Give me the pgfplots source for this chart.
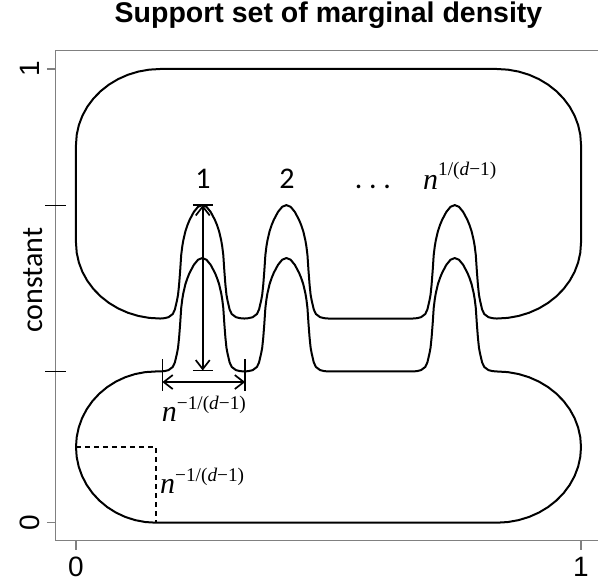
\documentclass[border=0pt]{standalone}
\usepackage{pgfplots}
\pgfplotsset{compat=1.18}
\usepackage{fontspec}
\usetikzlibrary{arrows.meta}
\newfontfamily\arialf{Liberation Sans}
\newfontfamily\calf{Carlito}
\newfontfamily\tnrf{Liberation Serif}
\newcommand{\nexp}[2]{{\tnrf\fontsize{30bp}{30bp}\selectfont\itshape n}\raisebox{#1}{\tnrf\fontsize{19.3bp}{20bp}\selectfont #2}}
\begin{document}
\begin{tikzpicture}
\useasboundingbox (-55.8bp,-40.15bp) rectangle (542.2bp,540.85bp);
\begin{axis}[
  at={(0,0)}, anchor=south west,
  x=505bp, y=453.7bp,
  xmin=-0.04, xmax=1.04, ymin=-0.04, ymax=1.04,
  clip=false,
  axis line style={draw=black!50, line width=1.2bp},
  tick style={draw=black!50, line width=1.2bp},
  tick align=outside,
  major tick length=9bp,
  tick pos=left,
  xtick={0,1}, xticklabels={0,1},
  ytick={0,1}, yticklabels={0,1},
  xticklabel shift=7bp,
  yticklabel shift=7bp,
  xticklabel style={font=\arialf\fontsize{28bp}{28bp}\selectfont, inner sep=0pt, anchor=north},
  yticklabel style={font=\arialf\fontsize{28bp}{28bp}\selectfont, rotate=90, anchor=south, inner sep=0pt},
  extra y ticks={0.33333,0.7},
  extra y tick labels={},
  extra y tick style={tick align=center, major tick length=21bp, tick style={draw=black}},
]
% upper blob
\addplot[black, line width=2bp, line join=round, no marks] coordinates {
(0,0.61667) (0.00143,0.59491) (0.00568,0.57353) (0.01269,0.55289) (0.02233,0.53334) (0.03444,0.51521) (0.04882,0.49882) (0.06521,0.48444) (0.08333,0.47233) (0.10289,0.46269) (0.12353,0.45568) (0.14491,0.45143) (0.16667,0.45)
(0.175,0.45075) (0.18333,0.453) (0.19167,0.46) (0.19583,0.47) (0.2,0.49) (0.20208,0.5025) (0.20417,0.525) (0.20625,0.555) (0.20833,0.59) (0.21042,0.6088) (0.2125,0.6225) (0.21667,0.6425) (0.22083,0.6563) (0.225,0.6675) (0.23333,0.685) (0.24167,0.6963) (0.25,0.7) (0.25833,0.6963) (0.26667,0.685) (0.275,0.6675) (0.27917,0.6563) (0.28333,0.6425) (0.2875,0.6225) (0.28958,0.6088) (0.29167,0.59) (0.29375,0.555) (0.29583,0.525) (0.29792,0.5025) (0.3,0.49) (0.30417,0.47) (0.30833,0.46) (0.31667,0.453) (0.325,0.45075) (0.33333,0.45)
(0.34167,0.45075) (0.35,0.453) (0.35833,0.46) (0.3625,0.47) (0.36667,0.49) (0.36875,0.5025) (0.37083,0.525) (0.37292,0.555) (0.375,0.59) (0.37708,0.6088) (0.37917,0.6225) (0.38333,0.6425) (0.3875,0.6563) (0.39167,0.6675) (0.4,0.685) (0.40833,0.6963) (0.41667,0.7) (0.425,0.6963) (0.43333,0.685) (0.44167,0.6675) (0.44583,0.6563) (0.45,0.6425) (0.45417,0.6225) (0.45625,0.6088) (0.45833,0.59) (0.46042,0.555) (0.4625,0.525) (0.46458,0.5025) (0.46667,0.49) (0.47083,0.47) (0.475,0.46) (0.48333,0.453) (0.49167,0.45075) (0.5,0.45)
(0.66667,0.45) (0.675,0.45075) (0.68333,0.453) (0.69167,0.46) (0.69583,0.47) (0.7,0.49) (0.70208,0.5025) (0.70417,0.525) (0.70625,0.555) (0.70833,0.59) (0.71042,0.6088) (0.7125,0.6225) (0.71667,0.6425) (0.72083,0.6563) (0.725,0.6675) (0.73333,0.685) (0.74167,0.6963) (0.75,0.7) (0.75833,0.6963) (0.76667,0.685) (0.775,0.6675) (0.77917,0.6563) (0.78333,0.6425) (0.7875,0.6225) (0.78958,0.6088) (0.79167,0.59) (0.79375,0.555) (0.79583,0.525) (0.79792,0.5025) (0.8,0.49) (0.80417,0.47) (0.80833,0.46) (0.81667,0.453) (0.825,0.45075) (0.83333,0.45)
(0.85509,0.45143) (0.87647,0.45568) (0.89711,0.46269) (0.91667,0.47233) (0.93479,0.48444) (0.95118,0.49882) (0.96556,0.51521) (0.97767,0.53334) (0.98731,0.55289) (0.99432,0.57353) (0.99857,0.59491) (1,0.61667)
(1,0.83333) (0.99857,0.85509) (0.99432,0.87647) (0.98731,0.89711) (0.97767,0.91667) (0.96556,0.93479) (0.95118,0.95118) (0.93479,0.96556) (0.91667,0.97767) (0.89711,0.98731) (0.87647,0.99432) (0.85509,0.99857) (0.83333,1)
(0.16667,1) (0.14491,0.99857) (0.12353,0.99432) (0.10289,0.98731) (0.08333,0.97767) (0.06521,0.96556) (0.04882,0.95118) (0.03444,0.93479) (0.02233,0.91667) (0.01269,0.89711) (0.00568,0.87647) (0.00143,0.85509) (0,0.83333)
(0,0.61667)
};
% lower blob
\addplot[black, line width=2bp, line join=round, no marks] coordinates {
(0.158,0.33333) (0.16667,0.33333) (0.175,0.33408) (0.18333,0.33633) (0.19167,0.34333) (0.19583,0.35333) (0.2,0.37333) (0.20208,0.38583) (0.20417,0.40833) (0.20625,0.43833) (0.20833,0.47333) (0.21042,0.49213) (0.2125,0.50583) (0.21667,0.52583) (0.22083,0.53963) (0.225,0.55083) (0.23333,0.56833) (0.24167,0.57963) (0.25,0.58333) (0.25833,0.57963) (0.26667,0.56833) (0.275,0.55083) (0.27917,0.53963) (0.28333,0.52583) (0.2875,0.50583) (0.28958,0.49213) (0.29167,0.47333) (0.29375,0.43833) (0.29583,0.40833) (0.29792,0.38583) (0.3,0.37333) (0.30417,0.35333) (0.30833,0.34333) (0.31667,0.33633) (0.325,0.33408) (0.33333,0.33333)
(0.34167,0.33408) (0.35,0.33633) (0.35833,0.34333) (0.3625,0.35333) (0.36667,0.37333) (0.36875,0.38583) (0.37083,0.40833) (0.37292,0.43833) (0.375,0.47333) (0.37708,0.49213) (0.37917,0.50583) (0.38333,0.52583) (0.3875,0.53963) (0.39167,0.55083) (0.4,0.56833) (0.40833,0.57963) (0.41667,0.58333) (0.425,0.57963) (0.43333,0.56833) (0.44167,0.55083) (0.44583,0.53963) (0.45,0.52583) (0.45417,0.50583) (0.45625,0.49213) (0.45833,0.47333) (0.46042,0.43833) (0.4625,0.40833) (0.46458,0.38583) (0.46667,0.37333) (0.47083,0.35333) (0.475,0.34333) (0.48333,0.33633) (0.49167,0.33408) (0.5,0.33333)
(0.66667,0.33333) (0.675,0.33408) (0.68333,0.33633) (0.69167,0.34333) (0.69583,0.35333) (0.7,0.37333) (0.70208,0.38583) (0.70417,0.40833) (0.70625,0.43833) (0.70833,0.47333) (0.71042,0.49213) (0.7125,0.50583) (0.71667,0.52583) (0.72083,0.53963) (0.725,0.55083) (0.73333,0.56833) (0.74167,0.57963) (0.75,0.58333) (0.75833,0.57963) (0.76667,0.56833) (0.775,0.55083) (0.77917,0.53963) (0.78333,0.52583) (0.7875,0.50583) (0.78958,0.49213) (0.79167,0.47333) (0.79375,0.43833) (0.79583,0.40833) (0.79792,0.38583) (0.8,0.37333) (0.80417,0.35333) (0.80833,0.34333) (0.81667,0.33633) (0.825,0.33408) (0.83333,0.33333)
(0.85509,0.33191) (0.87647,0.32766) (0.89711,0.32065) (0.91667,0.311) (0.93479,0.2989) (0.95118,0.28452) (0.96556,0.26813) (0.97767,0.25) (0.98731,0.23045) (0.99432,0.20981) (0.99857,0.18843) (1,0.16667)
(0.99857,0.14491) (0.99432,0.12353) (0.98731,0.10289) (0.97767,0.08333) (0.96556,0.06521) (0.95118,0.04882) (0.93479,0.03444) (0.91667,0.02233) (0.89711,0.01269) (0.87647,0.00568) (0.85509,0.00143) (0.83333,0)
(0.158,0) (0.13738,0.00143) (0.11711,0.00568) (0.09754,0.01269) (0.079,0.02233) (0.06182,0.03444) (0.04628,0.04882) (0.03265,0.06521) (0.02117,0.08333) (0.01203,0.10289) (0.00538,0.12353) (0.00135,0.14491) (0,0.16667)
(0.00135,0.18843) (0.00538,0.20981) (0.01203,0.23045) (0.02117,0.25) (0.03265,0.26813) (0.04628,0.28452) (0.06182,0.2989) (0.079,0.311) (0.09754,0.32065) (0.11711,0.32766) (0.13738,0.33191) (0.158,0.33333)
};
% dashed
\addplot[black, no marks, line width=1.6bp, dash pattern=on 5bp off 4bp] coordinates {(0,0.16667) (0.158,0.16667) (0.158,0)};
% vertical arrow with bars
\addplot[black, no marks, line width=1.7bp, {Straight Barb[length=9bp,width=14bp]}-{Straight Barb[length=9bp,width=14bp]}] coordinates {(0.251,0.3355) (0.251,0.7)};
\addplot[black, no marks, line width=1.7bp] coordinates {(0.2312,0.7) (0.2708,0.7)};
\addplot[black, no marks, line width=1.7bp] coordinates {(0.2312,0.3355) (0.2708,0.3355)};
% horizontal arrow with bars
\addplot[black, no marks, line width=1.7bp, {Straight Barb[length=9bp,width=14bp]}-{Straight Barb[length=9bp,width=14bp]}] coordinates {(0.171,0.310) (0.335,0.310)};
\addplot[black, no marks, line width=1.7bp] coordinates {(0.171,0.291) (0.171,0.360)};
\addplot[black, no marks, line width=1.7bp] coordinates {(0.335,0.291) (0.335,0.360)};
% title
\node[font=\arialf\bfseries\fontsize{28.5bp}{28.5bp}\selectfont, anchor=base, inner sep=0pt] at (axis cs:0.5,1.1014) {Support set of marginal density};
% labels
\node[font=\calf\fontsize{30bp}{30bp}\selectfont, anchor=base, inner sep=0pt] at (axis cs:0.2515,0.7377) {1};
\node[font=\calf\fontsize{30bp}{30bp}\selectfont, anchor=base, inner sep=0pt] at (axis cs:0.4178,0.7377) {2};
\node[font=\calf\fontsize{30bp}{30bp}\selectfont, anchor=base, inner sep=0pt] at (axis cs:0.588,0.7377) {.\ .\ .};
\node[anchor=base west, inner sep=0pt] at (axis cs:0.6871,0.7355) {\nexp{13.3bp}{1/(\textit{d}−1)}};
\node[anchor=base west, inner sep=0pt] at (axis cs:0.1697,0.2226) {\nexp{12.7bp}{−1/(\textit{d}−1)}};
\node[anchor=base west, inner sep=0pt] at (axis cs:0.1663,0.0633) {\nexp{12.7bp}{−1/(\textit{d}−1)}};
\node[font=\calf\fontsize{30bp}{30bp}\selectfont, rotate=90, anchor=base, inner sep=0pt] at (axis cs:-0.0673,0.535) {constant};
\end{axis}
\end{tikzpicture}
\end{document}
